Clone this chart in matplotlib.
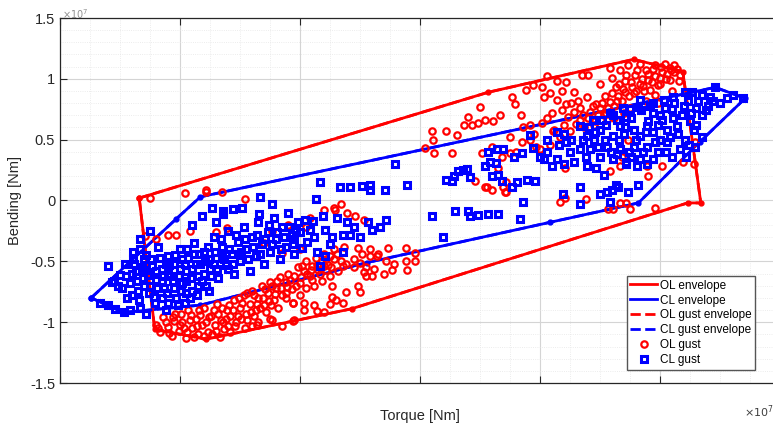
import numpy as np
import matplotlib.pyplot as plt
from matplotlib.ticker import MultipleLocator

plt.rcParams['font.family'] = ['Liberation Sans', 'DejaVu Sans']

# envelopes (torque in 1e7 Nm, bending in plot units)
ol_env_x = [-2.34, 0.57, 1.78, 2.19, 2.34, 2.23, -0.57, -1.78, -2.21, -2.34]
ol_env_y = [0.02, 0.89, 1.16, 1.06, -0.02, -0.02, -0.89, -1.14, -1.06, 0.02]
cl_env_x = [-2.74, -2.03, -1.83, 2.46, 2.71, 2.33, 1.82, 1.08, -0.44, -1.83, -2.47, -2.61, -2.74]
cl_env_y = [-0.80, -0.15, 0.03, 0.93, 0.84, 0.48, -0.02, -0.18, -0.51, -0.86, -0.92, -0.86, -0.80]

# OL gust points
ol_gust = [
    (-2.20,-1.02),(-2.17,-1.08),(-2.14,-0.96),(-2.10,-1.04),(-2.07,-1.11),(-2.04,-0.93),(-2.01,-1.07),(-1.98,-1.00),
    (-1.95,-1.13),(-1.93,-0.90),(-1.90,-1.05),(-1.87,-0.97),(-1.85,-1.10),(-1.82,-1.02),(-1.80,-0.88),(-1.77,-1.08),
    (-1.74,-0.95),(-1.71,-1.02),(-1.69,-0.85),(-1.66,-0.98),(-1.63,-1.06),(-1.61,-0.90),(-1.58,-0.95),(-1.55,-0.82),
    (-1.53,-1.00),(-1.50,-0.88),(-1.47,-0.78),(-1.45,-0.93),(-1.42,-0.85),(-1.40,-0.74),(-1.37,-0.90),(-1.35,-0.80),
    (-1.32,-0.70),(-1.30,-0.86),(-1.27,-0.76),(-1.25,-0.67),(-1.22,-0.82),(-1.20,-0.72),(-1.17,-0.63),(-1.15,-0.78),
    (-1.12,-0.67),(-1.10,-0.60),(-1.07,-0.73),(-1.05,-0.62),(-1.02,-0.55),(-1.00,-0.68),(-0.97,-0.58),(-0.95,-0.50),
    (-0.92,-0.62),(-0.90,-0.54),(-0.87,-0.47),(-0.85,-0.57),(-0.82,-0.50),(-0.80,-0.44),(-0.77,-0.53),(-0.75,-0.46),
    (-0.72,-0.40),(-2.12,-1.00),(-2.05,-0.99),(-1.97,-1.05),(-1.92,-0.98),(-1.88,-1.12),(-1.83,-0.94),(-1.78,-1.00),
    (-1.73,-1.10),(-1.68,-0.93),(-1.64,-1.00),(-1.60,-1.03),(-1.56,-0.90),(-1.52,-0.95),(-1.48,-0.84),(-1.44,-0.98),
    (-1.38,-0.95),(-1.33,-0.88),(-1.28,-0.92),(-1.24,-0.86),(-1.18,-0.88),(-1.12,-0.80),(-1.06,-0.84),(-1.00,-0.78),
    (-0.95,-0.72),(-0.88,-0.70),(-0.82,-0.66),(-0.75,-0.62),(-0.68,-0.58),(-0.62,-0.52),(-0.55,-0.48),(-0.48,-0.44),
    (-0.42,-0.40),(-1.35,-1.00),(-1.25,-0.97),(-1.15,-1.03),(-1.05,-0.98),(-0.97,-0.90),(-0.88,-0.86),(-0.80,-0.92),
    (-0.70,-0.82),(-0.62,-0.75),(-0.52,-0.70),(-0.45,-0.62),(-0.38,-0.56),(-0.30,-0.60),(-0.22,-0.52),(-0.12,-0.50),
    (-0.04,-0.50),(-0.23,-0.57),(-0.11,-0.57),(-0.27,-0.39),(-0.12,-0.39),(-0.04,-0.43),(-0.35,-0.44),(-0.52,-0.39),
    (-0.63,-0.38),(-0.73,-0.70),(-0.78,-0.57),(-0.90,-0.65),(-0.50,-0.51),(-0.36,-0.46),(-0.28,-0.50),(-0.47,-0.59),
    (-0.64,-0.84),(-0.75,-0.85),(-0.86,-0.91),(-0.97,-0.84),(-1.06,-0.99),(-1.23,-0.98),(-1.36,-1.02),(-1.40,-1.03),
    (-0.50,-0.75),(-0.73,-0.79),(-1.12,-0.76),(-1.06,-0.84),
    (-2.18,-1.05),(-2.09,-1.09),(-2.00,-1.02),(-1.94,-1.08),(-1.86,-1.03),(-1.80,-1.11),(-1.76,-0.96),(-1.70,-1.07),
    (-1.67,-1.12),(-1.62,-0.97),(-1.58,-1.08),(-1.54,-1.03),(-1.49,-0.97),(-1.46,-1.05),(-1.41,-0.92),(-1.36,-0.85),
    (-1.31,-0.80),(-1.26,-0.83),(-1.21,-0.77),(-1.16,-0.72),(-1.11,-0.71),(-1.08,-0.65),(-1.03,-0.70),(-0.99,-0.63),
    (-0.94,-0.60),(-0.91,-0.57),(-0.86,-0.53),(-0.83,-0.60),(-0.78,-0.48),(-0.74,-0.55),(-0.69,-0.44),(-0.66,-0.50),
    (-2.06,-0.96),(-1.99,-0.93),(-1.91,-0.94),(-1.84,-0.90),(-1.72,-0.90),(-1.65,-0.88),(-1.59,-0.86),(-1.51,-0.80),
    (-1.44,-0.76),(-1.38,-0.78),(-1.29,-0.73),(-1.23,-0.70),(-1.19,-0.66),
    (-2.03,-0.28),(-1.92,-0.25),(-1.61,-0.23),(-1.23,-0.25),(-1.15,-0.43),(-1.00,-0.40),(-1.96,0.06),(-1.78,0.07),
    (-1.65,0.07),(-1.46,0.01),(-2.25,0.02),(-2.29,-0.29),(-2.20,-0.32),(-1.78,0.09),(-2.10,-0.28),(-1.70,-0.26),
    (-1.40,-0.30),(-1.30,-0.35),(-1.10,-0.20),(-0.95,-0.22),
    (-0.72,-0.06),(-0.71,-0.08),(-0.61,-0.10),(-0.54,-0.13),(-0.92,-0.14),(-0.47,-0.16),(-0.42,-0.46),(-0.98,-0.54),
    (-0.80,-0.54),(-0.72,-0.48),(-0.64,-0.54),(-0.55,-0.55),(-0.45,-0.55),(-0.40,-0.62),(-0.80,-0.08),(-0.66,-0.03),
    (0.10,0.57),(0.11,0.50),(0.04,0.43),(0.12,0.39),(0.27,0.39),(0.22,0.57),(0.37,0.62),(0.48,0.64),(0.31,0.54),
    (0.52,0.39),(0.46,0.16),(0.54,0.11),(0.60,0.09),(0.71,0.07),(0.72,0.15),(0.40,0.69),(0.50,0.77),(0.43,0.62),
    (0.54,0.66),(0.61,0.65),(0.67,0.70),(0.77,0.85),(0.79,0.79),(0.88,0.91),(0.94,0.95),(1.02,0.93),(1.06,1.02),
    (1.14,0.98),(1.22,0.97),(1.28,0.89),(1.03,0.85),(1.14,0.83),(1.22,0.79),(1.33,0.76),(1.35,1.03),(1.40,1.03),
    (1.28,0.73),(0.75,0.52),(0.86,0.60),(0.92,0.50),(1.06,0.68),(1.11,0.57),(0.97,0.44),(1.23,0.69),(1.39,0.85),
    (1.47,0.79),(1.53,0.70),
    (1.33,0.66),(1.42,0.73),(1.50,0.76),(1.58,0.81),(1.65,0.86),(1.71,0.89),(1.77,0.93),(1.83,0.96),(1.90,0.99),
    (1.96,1.02),(2.02,1.06),(2.08,1.09),(1.54,0.86),(1.63,0.93),(1.71,0.98),(1.79,1.03),(1.88,1.07),(1.96,1.11),
    (2.04,1.12),(2.12,1.11),(1.67,1.07),(1.58,1.09),(1.73,1.11),(1.83,1.12),(1.92,0.91),(2.00,0.96),(2.08,0.99),
    (2.17,1.03),(1.46,0.65),(1.37,0.60),(1.25,0.57),(1.17,0.52),(1.08,0.46),(1.00,0.42),(1.83,0.83),(1.75,0.76),
    (1.96,0.87),(1.60,1.01),(1.50,0.96),(1.40,0.68),(1.45,0.62),(1.55,0.72),(1.62,0.78),(1.68,0.82),(1.74,0.86),
    (1.80,0.90),(1.86,0.94),(1.93,0.97),(2.00,1.01),(2.06,1.04),(2.12,1.06),(1.20,0.62),(1.12,0.58),(1.30,0.63),
    (0.95,0.55),(0.85,0.48),(0.80,0.40),(0.68,0.36),(0.60,0.44),
    (1.48,0.70),(1.52,0.80),(1.57,0.76),(1.60,0.88),(1.64,0.82),(1.66,0.96),(1.69,0.92),(1.72,1.03),(1.76,0.97),
    (1.78,0.88),(1.81,1.07),(1.85,1.00),(1.87,0.90),(1.90,1.04),(1.94,1.08),(1.98,0.95),(2.01,1.10),(2.05,1.00),
    (2.09,1.07),(2.14,1.08),(2.16,0.98),(1.44,0.78),(1.36,0.70),(1.32,0.82),(1.26,0.80),(1.18,0.74),(1.10,0.72),
    (1.02,0.64),(0.92,0.62),(0.84,0.70),(1.08,0.88),(1.18,0.90),(1.98,0.80),(2.10,0.90),(1.88,0.82),(1.70,0.72),
    (1.62,0.68),(1.56,0.66),
    (1.21,0.27),(1.38,0.01),(1.57,-0.07),(1.61,-0.07),(1.67,-0.02),(1.72,-0.02),(1.75,-0.07),(1.96,-0.06),(2.02,0.28),
    (1.89,0.28),(2.19,0.32),(2.28,0.30),(2.29,0.48),(1.67,0.28),(1.58,0.24),(1.21,0.02),(1.73,0.50),(1.68,0.36),
    (0.75,0.39),(0.65,0.27),(0.56,0.11),(0.69,0.11),(0.72,0.07),(1.17,-0.01),(1.90,0.20),
]

# CL gust points
cl_gust = [
    (-2.67,-0.84),(-2.60,-0.86),(-2.54,-0.89),(-2.47,-0.92),(-2.42,-0.90),(-2.33,-0.88),(-2.21,-0.84),(-2.12,-0.90),
    (-2.02,-0.86),(-1.92,-0.80),(-2.28,-0.93),
    (-2.60,-0.54),(-2.57,-0.67),(-2.50,-0.61),(-2.39,-0.42),(-2.33,-0.32),(-2.25,-0.25),(-2.38,-0.52),(-2.39,-0.48),
    (-2.33,-0.40),(-2.29,-0.57),
    (-2.55,-0.66),(-2.48,-0.72),(-2.45,-0.62),(-2.40,-0.78),(-2.36,-0.66),(-2.32,-0.55),(-2.30,-0.70),(-2.27,-0.61),
    (-2.24,-0.48),(-2.22,-0.79),(-2.20,-0.65),(-2.18,-0.38),(-2.15,-0.56),(-2.13,-0.72),(-2.10,-0.46),(-2.08,-0.62),
    (-2.05,-0.52),(-2.03,-0.80),(-2.00,-0.40),(-1.98,-0.68),(-1.95,-0.58),(-1.93,-0.47),(-1.90,-0.74),(-1.88,-0.35),
    (-1.85,-0.62),(-1.83,-0.52),(-1.80,-0.42),(-1.78,-0.70),(-1.75,-0.56),(-1.72,-0.30),(-1.70,-0.47),(-1.68,-0.64),
    (-1.65,-0.38),(-1.62,-0.53),(-1.60,-0.25),(-1.57,-0.44),(-1.55,-0.60),(-1.52,-0.34),(-1.50,-0.50),(-1.47,-0.22),
    (-1.45,-0.40),(-1.42,-0.58),(-1.40,-0.30),(-1.37,-0.46),(-1.35,-0.18),(-1.32,-0.36),(-1.30,-0.52),(-1.27,-0.26),
    (-1.25,-0.42),(-1.22,-0.14),(-1.20,-0.32),(-1.17,-0.48),(-1.15,-0.22),(-1.12,-0.38),(-1.10,-0.10),(-1.07,-0.28),
    (-1.05,-0.44),(-1.02,-0.18),
    (-2.25,-0.70),(-2.15,-0.66),(-2.05,-0.72),(-1.95,-0.66),(-1.85,-0.70),(-2.28,-0.45),(-2.12,-0.52),(-2.00,-0.56),
    (-1.90,-0.56),(-1.80,-0.60),(-1.72,-0.52),(-2.20,-0.58),(-2.10,-0.60),(-1.98,-0.48),(-1.88,-0.44),(-1.76,-0.48),
    (-1.65,-0.46),(-2.35,-0.74),(-2.15,-0.80),(-1.95,-0.76),(-2.40,-0.60),(-1.60,-0.56),(-1.52,-0.44),
    (-2.52,-0.70),(-2.44,-0.80),(-2.42,-0.68),(-2.37,-0.58),(-2.34,-0.82),(-2.31,-0.64),(-2.26,-0.76),(-2.23,-0.54),
    (-2.19,-0.72),(-2.17,-0.47),(-2.14,-0.62),(-2.11,-0.76),(-2.09,-0.53),(-2.06,-0.66),(-2.04,-0.45),(-2.01,-0.62),
    (-1.99,-0.74),(-1.96,-0.52),(-1.94,-0.40),(-1.91,-0.64),(-1.87,-0.52),(-1.84,-0.44),(-1.82,-0.66),(-1.79,-0.50),
    (-1.77,-0.38),(-1.74,-0.62),(-1.71,-0.42),(-1.69,-0.56),(-1.66,-0.32),(-1.63,-0.48),(-1.59,-0.40),(-1.56,-0.52),
    (-1.53,-0.28),(-1.49,-0.42),(-1.46,-0.32),(-1.43,-0.48),(-1.39,-0.38),(-1.36,-0.28),(-1.33,-0.44),(-1.29,-0.32),
    (-1.26,-0.20),(-1.23,-0.36),(-1.19,-0.26),(-1.16,-0.40),(-1.13,-0.30),(-1.09,-0.22),(-1.06,-0.36),(-1.03,-0.25),
    (-2.46,-0.52),(-2.30,-0.48),(-1.86,-0.78),(-1.76,-0.74),(-2.10,-0.84),(-1.96,-0.84),
    (-1.73,-0.06),(-1.82,-0.13),(-1.64,-0.09),(-1.56,-0.07),(-1.48,-0.06),(-1.33,0.03),(-1.23,-0.03),(-1.34,-0.11),
    (-1.64,-0.11),(-1.90,-0.20),(-1.70,-0.18),
    (-0.96,-0.16),(-0.89,-0.17),(-0.81,-0.13),(-0.69,-0.14),(-0.61,-0.18),(-0.79,-0.24),(-0.73,-0.30),(-0.64,-0.28),
    (-0.58,-0.28),(-0.43,-0.18),(-0.40,-0.24),(-0.33,-0.22),(-0.28,-0.16),(-0.88,-0.30),(-0.94,-0.34),(-0.98,-0.39),
    (-0.86,-0.42),(-0.79,-0.46),(-0.64,-0.42),(-0.83,-0.54),(-1.00,-0.26),(-1.05,-0.32),(-0.92,-0.24),(-0.75,-0.36),
    (-0.55,-0.22),(-0.50,-0.30),
    (-0.83,0.15),(-0.67,0.11),(-0.58,0.11),(-0.48,0.12),(-0.42,0.13),(-0.42,0.09),(-0.29,0.09),(-0.11,0.13),
    (-0.21,0.30),(-0.87,0.01),(0.10,-0.13),(0.29,-0.09),(0.40,-0.09),(0.42,-0.13),(0.48,-0.12),(0.57,-0.11),
    (0.65,-0.11),(0.19,-0.30),(0.83,-0.15),(0.86,-0.01),
    (0.27,0.16),(0.28,0.20),(0.32,0.24),(0.36,0.25),(0.39,0.26),(0.42,0.19),(0.54,0.28),(0.58,0.32),(0.63,0.31),
    (0.60,0.20),(0.65,0.21),(0.68,0.16),(0.77,0.11),(0.81,0.15),(0.89,0.17),(0.96,0.16),(0.69,0.42),(0.78,0.36),
    (0.85,0.39),(0.92,0.54),(0.94,0.43),(1.00,0.36),(1.03,0.34),(1.06,0.40),(0.57,0.40),(0.64,0.42),(0.22,0.17),
    (1.19,0.05),(1.33,0.11),(1.50,0.05),(1.56,0.07),(1.60,0.09),(1.63,0.13),(1.65,0.11),(1.73,0.07),(1.82,0.13),
    (1.58,-0.01),(1.33,-0.03),
    (1.61,0.70),(1.75,0.75),(1.82,0.77),(1.94,0.80),(2.03,0.83),(2.11,0.85),(2.21,0.89),(2.27,0.89),(2.35,0.87),
    (2.42,0.85),(2.46,0.93),(2.61,0.87),(2.69,0.84),(2.28,0.58),(2.21,0.50),(2.29,0.44),(2.35,0.52),(2.11,0.68),
    (2.06,0.58),(2.00,0.50),(1.94,0.56),(1.89,0.61),(1.83,0.53),(1.78,0.58),(1.72,0.69),(1.67,0.61),(1.61,0.53),
    (1.56,0.44),(1.50,0.58),(1.44,0.66),(1.39,0.53),(1.33,0.61),(1.42,0.42),(1.50,0.36),(1.61,0.34),(1.72,0.32),
    (1.83,0.34),(1.94,0.34),(1.67,0.42),(1.78,0.44),(1.89,0.44),(2.06,0.48),(2.17,0.42),(2.22,0.36),(2.14,0.61),
    (1.94,0.72),(1.83,0.83),
    (1.33,0.42),(1.28,0.32),(1.39,0.28),(1.14,0.34),(1.22,0.48),(1.14,0.56),(1.06,0.50),(1.47,0.27),(1.53,0.21),
    (1.72,0.30),(1.81,0.28),(1.89,0.30),
    (2.00,0.70),(2.10,0.75),(2.20,0.78),(2.30,0.76),(2.40,0.78),(2.50,0.80),(2.15,0.55),(2.25,0.65),(1.90,0.65),
    (1.70,0.55),(1.55,0.62),(1.45,0.50),(1.25,0.40),(1.20,0.55),(2.05,0.40),(1.98,0.62),(2.35,0.70),
    (1.36,0.50),(1.41,0.60),(1.46,0.56),(1.52,0.66),(1.54,0.50),(1.58,0.72),(1.59,0.40),(1.64,0.66),(1.66,0.50),
    (1.69,0.76),(1.71,0.60),(1.74,0.40),(1.76,0.68),(1.80,0.50),(1.84,0.74),(1.86,0.40),(1.88,0.56),(1.92,0.78),
    (1.96,0.48),(2.02,0.66),(2.04,0.76),(2.08,0.52),(2.12,0.80),(2.18,0.70),(2.23,0.82),(2.26,0.72),(2.32,0.82),
    (2.38,0.74),(2.44,0.82),(2.56,0.84),(2.30,0.62),(2.24,0.46),(2.10,0.36),(1.98,0.40),(1.76,0.36),(1.64,0.38),
    (1.48,0.44),(1.38,0.36),(1.26,0.50),(1.16,0.46),(1.10,0.28),(1.20,0.30),
]

y_ticks = [-1.5, -1, -0.5, 0, 0.5, 1, 1.5]
y_labels = ['-1.5', '-1', '-0.5', '0', '0.5', '1', '1.5']

ol_x, ol_y = np.array(ol_gust).T
cl_x, cl_y = np.array(cl_gust).T

fig = plt.figure(figsize=(7.73, 4.23), dpi=100)
ax = fig.add_axes([60/773, 40/423, 720/773, 365/423])

ax.plot(ol_env_x, ol_env_y, '-', color='r', lw=2, label='OL envelope')
ax.plot(cl_env_x, cl_env_y, '-', color='b', lw=2, label='CL envelope')
ax.plot(ol_env_x, ol_env_y, '--', color='r', lw=2, label='OL gust envelope')
ax.plot(cl_env_x, cl_env_y, '--', color='b', lw=2, label='CL gust envelope')
ax.plot(ol_env_x, ol_env_y, 'o', color='r', ms=3.5)
ax.plot(cl_env_x, cl_env_y, 'o', color='b', ms=3.5)

ax.plot(ol_x, ol_y, 'o', mfc='none', mec='r', mew=1.6, ms=4.6, ls='none', label='OL gust')
ax.plot(cl_x, cl_y, 's', mfc='none', mec='b', mew=2.2, ms=4.4, ls='none', label='CL gust')

ax.set_xlim(-3, 3)
ax.set_ylim(-1.5, 1.5)
ax.xaxis.set_major_locator(MultipleLocator(1))
ax.xaxis.set_minor_locator(MultipleLocator(0.25))
ax.yaxis.set_minor_locator(MultipleLocator(0.1))
ax.set_yticks(y_ticks)
ax.set_yticklabels(y_labels, fontsize=10.5, color='#262626')
ax.set_xticklabels([])
ax.tick_params(which='major', direction='in', length=5, top=True, right=True, color='#262626')
ax.tick_params(which='minor', length=0)
ax.grid(True, which='major', color='#d4d4d4', lw=0.8)
ax.grid(True, which='minor', color='#e6e6e6', lw=0.6, ls=':')
ax.set_axisbelow(True)
for s in ax.spines.values():
    s.set_color('#262626')
    s.set_linewidth(0.9)

ax.set_xlabel('Torque [Nm]', fontsize=10.5, color='#262626', labelpad=15)
ax.set_ylabel('Bending [Nm]', fontsize=10.5, color='#262626', labelpad=6)

fig.text(744/773, 11/423, r'$\times10^{7}$', fontsize=8, color='#404040', va='center')
fig.text(62/773, 1 - 14/423, r'$\times10^{7}$', fontsize=7, color='#909090', va='center')

leg = ax.legend(loc='lower right', bbox_to_anchor=(0.965, 0.036), fontsize=8.5, fancybox=False,
                framealpha=1, edgecolor='#555555', handlelength=2.3, handletextpad=0.2,
                labelspacing=0.25, borderpad=0.3, borderaxespad=0)

fig.savefig('out.png', dpi=100)
